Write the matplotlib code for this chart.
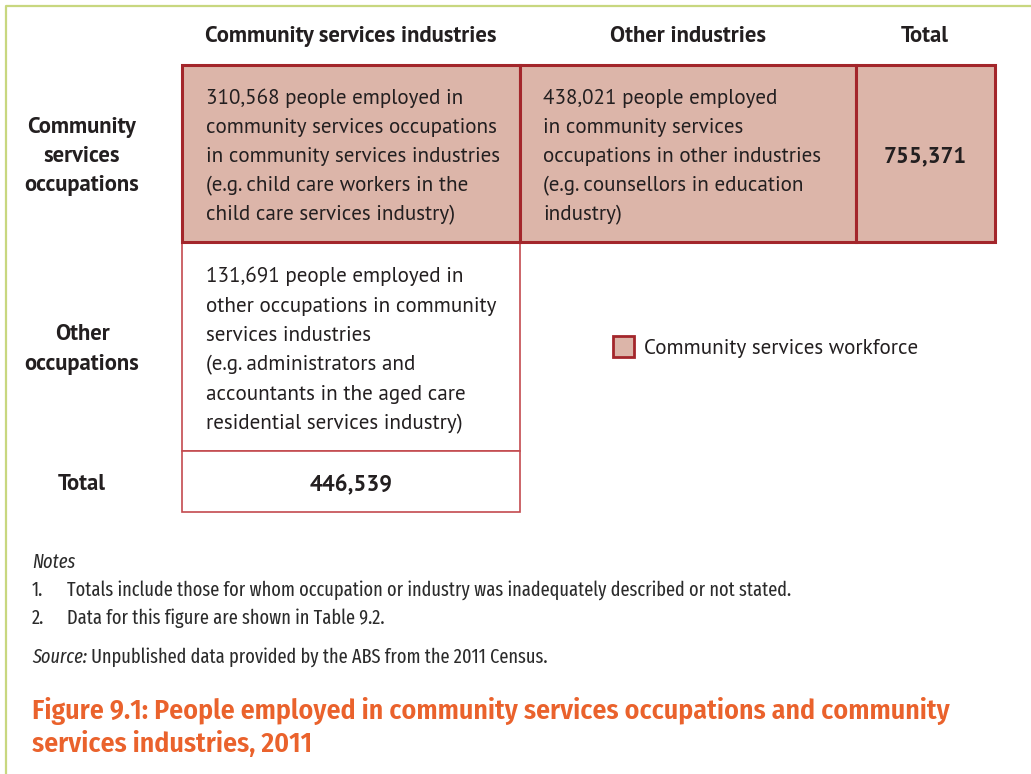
import matplotlib
matplotlib.use("Agg")
import matplotlib.pyplot as plt
from matplotlib.patches import Rectangle

# ---- data ----
col_headers = ["Community services industries", "Other industries", "Total"]
row_headers = [["Community", "services", "occupations"], ["Other", "occupations"], ["Total"]]
cs_in_cs = 310568
cs_in_other = 438021
cs_total = 755371
other_in_cs = 131691
cs_ind_total = 446539
legend_label = "Community services workforce"

cell1_lines = [f"{cs_in_cs:,} people employed in", "community services occupations",
               "in community services industries", "(e.g. child care workers in the",
               "child care services industry)"]
cell2_lines = [f"{cs_in_other:,} people employed", "in community services",
               "occupations in other industries", "(e.g. counsellors in education",
               "industry)"]
cell3_lines = [f"{other_in_cs:,} people employed in", "other occupations in community",
               "services industries", "(e.g. administrators and",
               "accountants in the aged care", "residential services industry)"]
notes_title = "Notes"
notes = ["Totals include those for whom occupation or industry was inadequately described or not stated.",
         "Data for this figure are shown in Table 9.2."]
source_label = "Source:"
source_text = " Unpublished data provided by the ABS from the 2011 Census."
fig_title = ["Figure 9.1: People employed in community services occupations and community",
             "services industries, 2011"]

# ---- style ----
W, H = 1031, 774
FILL = "#dcb5a9"
DARK = "#a3262b"
LIGHT = "#c34a4f"
FRAME = "#c8d77f"
ORANGE = "#ea622c"
TXT = "#231f20"
BODY = ["PT Sans", "Open Sans", "DejaVu Sans"]
NARROW = ["Fira Sans Condensed", "Roboto Condensed", "DejaVu Sans"]
XNARROW = ["Fira Sans Extra Condensed", "Fira Sans Condensed", "DejaVu Sans"]
NOTE_W = "normal"

fig = plt.figure(figsize=(W / 100, H / 100), dpi=100)
ax = fig.add_axes([0, 0, 1, 1])
ax.set_xlim(0, W)
ax.set_ylim(H, 0)
ax.axis("off")
renderer = fig.canvas.get_renderer()


def fit_size(text, target_px, family, weight="normal", style="normal"):
    t = fig.text(0, 0, text, fontsize=10, family=family, weight=weight, style=style)
    w = t.get_window_extent(renderer).width
    t.remove()
    return 10 * target_px / w


body_fs = fit_size("community services occupations", 291, BODY)
head_fs = fit_size("Community services industries", 291, BODY, "bold")
legend_fs = fit_size(legend_label, 274, BODY)
note_fs = fit_size(notes[0], 726, XNARROW, NOTE_W)
title_fs = fit_size(fig_title[0], 923, NARROW, "semibold")

# frame
ax.plot([6, 6, W], [H, 6, 6], color=FRAME, lw=1.6, solid_capstyle="butt")

# cells
ax.add_patch(Rectangle((182, 65), 338, 177, facecolor=FILL, edgecolor=DARK, lw=2.2, zorder=2))
ax.add_patch(Rectangle((520, 65), 336, 177, facecolor=FILL, edgecolor=DARK, lw=2.2, zorder=2))
ax.add_patch(Rectangle((856, 65), 139, 177, facecolor=FILL, edgecolor=DARK, lw=2.2, zorder=2))
ax.add_patch(Rectangle((182, 242), 338, 209, facecolor="white", edgecolor=LIGHT, lw=1.2, zorder=1))
ax.add_patch(Rectangle((182, 451), 338, 61, facecolor="white", edgecolor=LIGHT, lw=1.2, zorder=1))

# headers
for txt, x in zip(col_headers, [351, 688, 925]):
    ax.text(x, 42, txt, ha="center", va="baseline", fontsize=head_fs, family=BODY,
            weight="bold", color=TXT)

for lines, ys in zip(row_headers, [[133, 162, 191], [340, 370], [490]]):
    for ln, y in zip(lines, ys):
        ax.text(82, y, ln, ha="center", va="baseline", fontsize=head_fs, family=BODY,
                weight="bold", color=TXT)

# cell texts
step = 29.3
for lines, x0, y0 in [(cell1_lines, 206, 103.5), (cell2_lines, 543, 103.5), (cell3_lines, 206, 282.5)]:
    for i, ln in enumerate(lines):
        ax.text(x0, y0 + i * step, ln, ha="left", va="baseline", fontsize=body_fs,
                family=BODY, color=TXT, zorder=3)

ax.text(925, 162, f"{cs_total:,}", ha="center", va="baseline", fontsize=head_fs,
        family=BODY, weight="bold", color=TXT, zorder=3)
ax.text(351, 490, f"{cs_ind_total:,}", ha="center", va="baseline", fontsize=head_fs,
        family=BODY, weight="bold", color=TXT, zorder=3)

# legend
ax.add_patch(Rectangle((612.5, 335.5), 21, 21, facecolor=FILL, edgecolor=DARK, lw=2.0, zorder=2))
ax.text(644, 354, legend_label, ha="left", va="baseline", fontsize=legend_fs, family=BODY,
        color=TXT)

# notes
NOTE_C = "#2b2b2b"
ax.text(32, 568, notes_title, ha="left", va="baseline", fontsize=note_fs, family=XNARROW,
        weight=NOTE_W, style="italic", color=NOTE_C)
for i, n in enumerate(notes):
    y = 596 + i * 28
    ax.text(32, y, f"{i + 1}.", ha="left", va="baseline", fontsize=note_fs, family=XNARROW,
            weight=NOTE_W, color=NOTE_C)
    ax.text(67, y, n, ha="left", va="baseline", fontsize=note_fs, family=XNARROW,
            weight=NOTE_W, color=NOTE_C)
st = ax.text(32, 663, source_label, ha="left", va="baseline", fontsize=note_fs, family=XNARROW,
             weight=NOTE_W, style="italic", color=NOTE_C)
fig.canvas.draw()
bb = st.get_window_extent(renderer)
x_end = ax.transData.inverted().transform((bb.x1, bb.y0))[0]
ax.text(x_end, 663, source_text, ha="left", va="baseline", fontsize=note_fs, family=XNARROW,
        weight=NOTE_W, color=NOTE_C)

# title
for i, ln in enumerate(fig_title):
    ax.text(32, 719 + i * 33, ln, ha="left", va="baseline", fontsize=title_fs, family=NARROW,
            weight="semibold", color=ORANGE)

fig.savefig("out.png", dpi=100, facecolor="white")
